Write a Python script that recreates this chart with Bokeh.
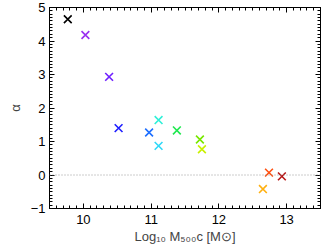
from bokeh.plotting import figure
from bokeh.models import ColumnDataSource, Span, LinearAxis, FixedTicker, Range1d
from bokeh.embed import file_html
from bokeh.resources import INLINE

log_mass = [9.77, 10.03, 10.38, 10.52, 10.97, 11.11, 11.11, 11.38, 11.72, 11.75, 12.74, 12.93, 12.65]
alpha = [4.65, 4.18, 2.93, 1.40, 1.27, 1.64, 0.87, 1.33, 1.06, 0.77, 0.07, -0.04, -0.42]
colors = ["#000000", "#9a30f0", "#7020ff", "#2020ff", "#2070ff", "#30f0d8", "#30d8f8",
          "#20e850", "#78e800", "#c8f000", "#ff5010", "#b81818", "#ffb010"]

x_ticks = [10, 11, 12, 13]
y_ticks = [-1, 0, 1, 2, 3, 4, 5]
x_minor = [round(9.5 + 0.1 * i, 2) for i in range(41)]
y_minor = [round(-1 + 0.1 * i, 2) for i in range(61)]

src = ColumnDataSource(dict(x=log_mass, y=alpha, c=colors))

FONT = "Liberation Sans"

p = figure(width=327, height=246, output_backend="svg", toolbar_location=None,
           x_range=Range1d(9.5, 13.5), y_range=Range1d(-1, 5),
           x_axis_location=None, y_axis_location=None,
           min_border_left=49, min_border_right=7, min_border_top=7, min_border_bottom=0)
p.frame_width = 271
p.frame_height = 201
p.grid.visible = False
p.outline_line_color = "black"
p.outline_line_width = 1
p.background_fill_color = "white"
p.border_fill_color = "white"

def style(ax, ticks, labels=True):
    ax.axis_line_color = "black"
    ax.major_tick_in = 5
    ax.major_tick_out = 0
    ax.minor_tick_in = 3
    ax.minor_tick_out = 0
    ax.major_tick_line_color = "black"
    ax.minor_tick_line_color = "black"
    ax.major_label_text_font = FONT
    ax.major_label_text_font_size = "13px"
    ax.major_label_text_color = "black"
    ax.axis_label_text_font = FONT
    ax.axis_label_text_font_size = "13px"
    ax.axis_label_text_font_style = "normal"
    if not labels:
        ax.major_label_overrides = {t: "" for t in ticks}
        ax.major_label_standoff = 0

xb = LinearAxis(ticker=FixedTicker(ticks=x_ticks, minor_ticks=x_minor),
                axis_label="Log₁₀ M₅₀₀c [M⊙]")
style(xb, x_ticks)
xb.major_label_standoff = 6
xb.axis_label_standoff = 2
p.add_layout(xb, "below")

yl = LinearAxis(ticker=FixedTicker(ticks=y_ticks, minor_ticks=y_minor),
                axis_label="α")
style(yl, y_ticks)
yl.major_label_standoff = 4
yl.axis_label_standoff = 5
yl.major_label_orientation = "horizontal"
p.add_layout(yl, "left")

xt = LinearAxis(ticker=FixedTicker(ticks=x_ticks, minor_ticks=x_minor))
style(xt, x_ticks, labels=False)
p.add_layout(xt, "above")

yr = LinearAxis(ticker=FixedTicker(ticks=y_ticks, minor_ticks=y_minor))
style(yr, y_ticks, labels=False)
p.add_layout(yr, "right")

p.add_layout(Span(location=0, dimension="width", line_color="#999999", line_width=1, line_dash="1 2"))

p.scatter("x", "y", source=src, marker="x", size=11, line_color="c", line_width=1.6)

open("out.html", "w").write(file_html(p, INLINE))
